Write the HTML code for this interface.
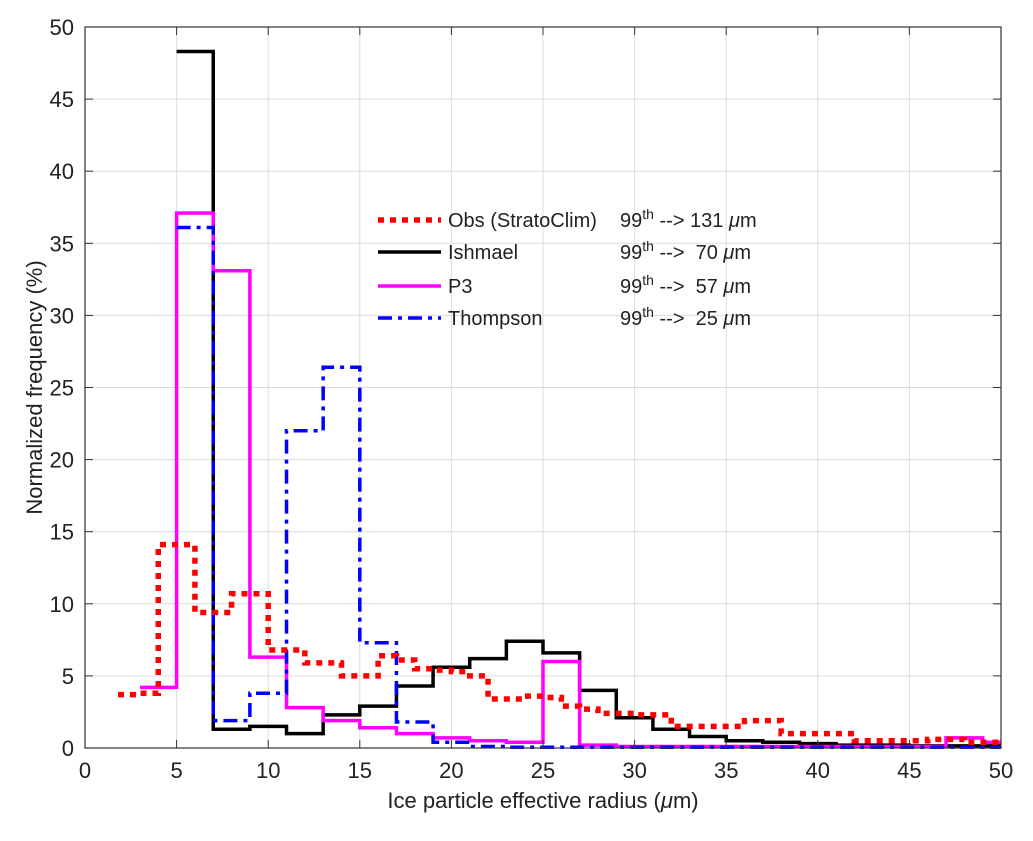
<!DOCTYPE html>
<html><head><meta charset="utf-8"><style>
body{margin:0;background:#fff;}
svg text{font-family:"Liberation Sans",sans-serif;fill:#222;}
</style></head><body>
<svg id="chart" width="1033" height="836" xmlns="http://www.w3.org/2000/svg">
<g id="grid"></g><g id="series"></g><g id="axes"></g><g id="legend"></g>
</svg>
<script>
const xTicks=[0,5,10,15,20,25,30,35,40,45,50];
const yTicks=[0,5,10,15,20,25,30,35,40,45,50];
const obsEdges=[1.8,3,4,5,6,7,8,9,10,11,12,13,14,15,16,17,18,19,20,21,22,23,24,25,26,27,28,30,32,34,36,38,42,46,48,50];
const obsVals=[3.7,3.8,14.1,14.1,9.4,9.4,10.7,10.7,6.8,6.8,5.9,5.9,5.0,5.0,6.4,6.1,5.5,5.4,5.3,5.0,3.4,3.4,3.6,3.5,2.9,2.7,2.4,2.3,1.5,1.5,1.9,1.0,0.5,0.6,0.4];
const ishEdges=[5,7,9,11,13,15,17,19,21,23,25,27,29,31,33,35,37,39,41,45,50];
const ishVals=[48.3,1.3,1.5,1.0,2.3,2.9,4.3,5.6,6.2,7.4,6.6,4.0,2.1,1.3,0.8,0.5,0.4,0.3,0.2,0.15];
const p3Edges=[3,5,7,9,11,13,15,17,19,21,23,25,27,29,47,49,50];
const p3Vals=[4.2,37.1,33.1,6.3,2.8,1.9,1.4,1.0,0.7,0.5,0.4,6.0,0.2,0.1,0.7,0.4];
const thEdges=[5,7,9,11,13,15,17,19,21,23,50];
const thVals=[36.1,1.9,3.8,22.0,26.4,7.3,1.8,0.4,0.1,0.05];
const L=85,R=1001,T=27,B=748;
const sx=v=>L+(v-0)/(50)*(R-L);
const sy=v=>B-(v/50)*(B-T);
const NS="http://www.w3.org/2000/svg";
function mk(tag,attrs,parent){const e=document.createElementNS(NS,tag);for(const k in attrs)e.setAttribute(k,attrs[k]);parent.appendChild(e);return e;}
const grid=document.getElementById('grid'),axes=document.getElementById('axes'),ser=document.getElementById('series'),leg=document.getElementById('legend');
xTicks.forEach(t=>{
 const g=mk('line',{x1:sx(t),x2:sx(t),y1:T,y2:B,stroke:'#dcdcdc','stroke-width':1},grid);
 
 
 mk('line',{x1:sx(t),x2:sx(t),y1:B,y2:B-8,stroke:'#333'},axes);
 mk('line',{x1:sx(t),x2:sx(t),y1:T,y2:T+8,stroke:'#333'},axes);
 const tx=mk('text',{x:sx(t),y:B+30,'text-anchor':'middle','font-size':22},axes);tx.textContent=t;
 
 
});
yTicks.forEach(t=>{
 const g=mk('line',{x1:L,x2:R,y1:sy(t),y2:sy(t),stroke:'#dcdcdc','stroke-width':1},grid);
 
 
 mk('line',{x1:L,x2:L+8,y1:sy(t),y2:sy(t),stroke:'#333'},axes);
 mk('line',{x1:R,x2:R-8,y1:sy(t),y2:sy(t),stroke:'#333'},axes);
 const tx=mk('text',{x:L-11,y:sy(t)+8,'text-anchor':'end','font-size':22},axes);tx.textContent=t;
 
 
});
const frame=mk('rect',{x:L,y:T,width:R-L,height:B-T,fill:'none',stroke:'#333','stroke-width':1.2},axes);


function stairs(edges,vals){let d='M'+sx(edges[0])+','+sy(vals[0]);for(let i=0;i<vals.length;i++){d+=' L'+sx(edges[i])+','+sy(vals[i])+' L'+sx(edges[i+1])+','+sy(vals[i]);}return d;}
const styles=[
 {name:'ishmael-series',e:ishEdges,v:ishVals,c:'#000',dash:'',w:3.5},
 {name:'p3-series',e:p3Edges,v:p3Vals,c:'#ff00ff',dash:'',w:3.5},
 {name:'thompson-series',e:thEdges,v:thVals,c:'#0000ff',dash:'14 6 4 6',w:3.5},
 {name:'obs-series',e:obsEdges,v:obsVals,c:'#ff0000',dash:'6 6',w:5.5}];
styles.forEach(s=>{
 const p=mk('path',{d:stairs(s.e,s.v),fill:'none',stroke:s.c,'stroke-width':s.w,'stroke-dasharray':s.dash},ser);
 
 
});
const legItems=[['Obs (StratoClim)','131','#ff0000','6 6',5.5],['Ishmael','70','#000','',3.5],['P3','57','#ff00ff','',3.5],['Thompson','25','#0000ff','14 6 4 6',3.5]];
const legY=[220,252,286,318];
legItems.forEach((it,i)=>{
 const y=legY[i];
 const ln=mk('line',{x1:378,x2:441,y1:y,y2:y,stroke:it[2],'stroke-width':it[4],'stroke-dasharray':it[3]},leg);
 
 
 const t=mk('text',{x:448,y:y+7,'font-size':20},leg);t.textContent=it[0];
 
 
 const t2=mk('text',{x:620,y:y+7,'font-size':20},leg);
 t2.innerHTML='99<tspan dy="-8" font-size="14">th</tspan><tspan dy="8"> --&gt; '+(it[1].length<3?'&#160;':'')+it[1]+' <tspan font-style="italic">μ</tspan>m</tspan>';
 
 
});
const xl=mk('text',{x:(L+R)/2,y:808,'text-anchor':'middle','font-size':22},axes);
xl.innerHTML='Ice particle effective radius (<tspan font-style="italic">μ</tspan>m)';


const yl=mk('text',{x:0,y:0,'text-anchor':'middle','font-size':22,transform:'translate(42,'+((T+B)/2)+') rotate(-90)'},axes);
yl.textContent='Normalized frequency (%)';


</script>
</body></html>
